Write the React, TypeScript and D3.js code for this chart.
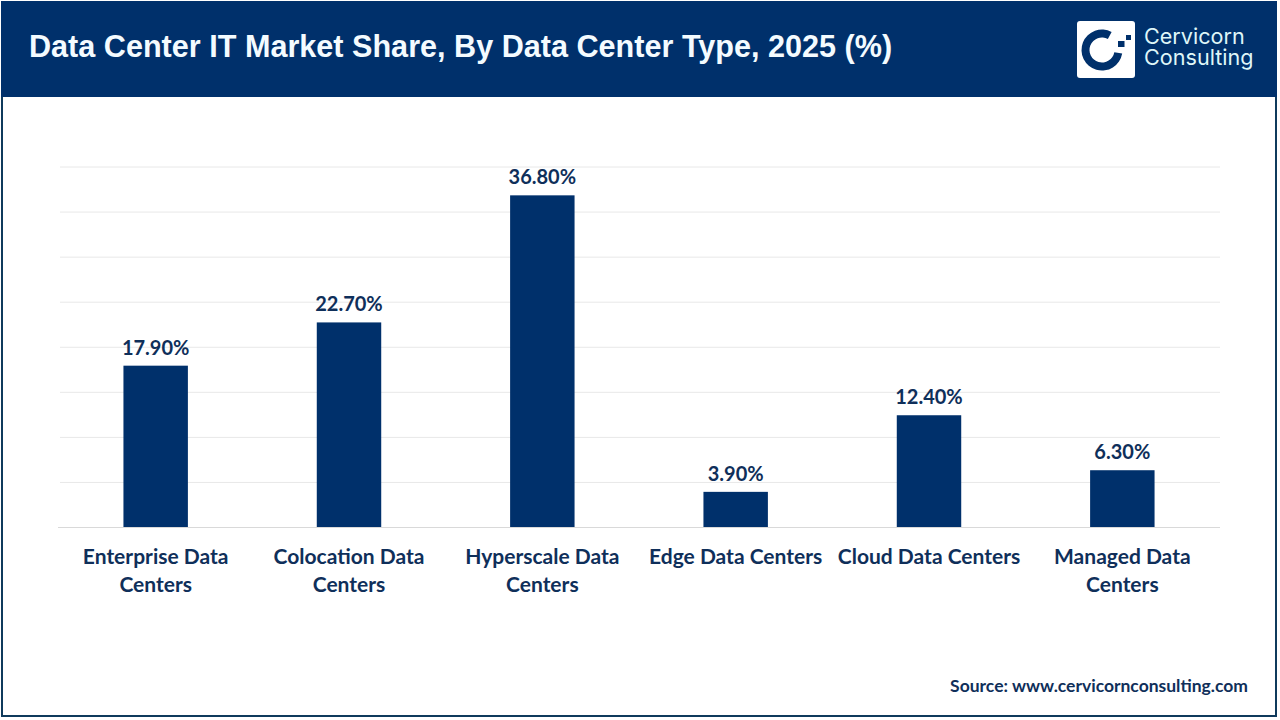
import React, { useEffect, useRef } from "react";
import * as d3 from "d3";

const categories = [
  "Enterprise Data Centers",
  "Colocation Data Centers",
  "Hyperscale Data Centers",
  "Edge Data Centers",
  "Cloud Data Centers",
  "Managed Data Centers",
];
const values = [17.9, 22.7, 36.8, 3.9, 12.4, 6.3];
const gridTicks = [5, 10, 15, 20, 25, 30, 35, 40];
const unwrapped = ["Edge Data Centers", "Cloud Data Centers"];

const title = "Data Center IT Market Share, By Data Center Type, 2025 (%)";
const source = "Source: www.cervicornconsulting.com";
const logoLines = ["Cervicorn", "Consulting"];

const navy = "#00306b";
const textNavy = "#0f2f5a";
const labelFont = "Lato, 'Noto Sans', sans-serif";

const App = () => {
  const svgRef = useRef<SVGSVGElement>(null);

  useEffect(() => {
    const width = 1280;
    const height = 720;
    const svg = d3.select(svgRef.current);
    svg.selectAll("*").remove();
    svg
      .attr("width", width)
      .attr("height", height)
      .attr("viewBox", [0, 0, width, height].join(" "))
      .style("position", "absolute")
      .style("left", 0)
      .style("top", 0)
      .style("background", "#fff");

    // frame and header band
    svg.append("rect")
      .attr("x", 2).attr("y", 2).attr("width", 1274).attr("height", 714)
      .attr("fill", "#fff").attr("stroke", "#0f3a5c").attr("stroke-width", 2);
    svg.append("rect")
      .attr("x", 1).attr("y", 1).attr("width", 1276).attr("height", 96)
      .attr("fill", navy);
    svg.append("text")
      .attr("x", 29).attr("y", 57)
      .attr("fill", "#f4fbff")
      .attr("font-family", "'Liberation Sans', Arial, sans-serif")
      .attr("font-weight", 700)
      .attr("font-size", 30.6)
      .text(title);

    // logo
    const logo = svg.append("g");
    logo.append("rect")
      .attr("x", 1077).attr("y", 21).attr("width", 58).attr("height", 57)
      .attr("rx", 3).attr("fill", "#fff");
    const ring = d3.arc()({
      innerRadius: 12.5,
      outerRadius: 20.5,
      startAngle: (100 * Math.PI) / 180,
      endAngle: (388 * Math.PI) / 180,
    });
    logo.append("path")
      .attr("d", ring)
      .attr("transform", "translate(1102,50)")
      .attr("fill", navy);
    logo.append("rect").attr("x", 1118).attr("y", 41).attr("width", 6.5).attr("height", 6).attr("fill", navy);
    logo.append("rect").attr("x", 1126).attr("y", 35).attr("width", 5).attr("height", 5).attr("fill", navy);
    // one text element, the two lines sit tighter than the font's line box
    logo.append("text")
      .attr("fill", "#dff6f8")
      .attr("font-family", "Inter, 'Open Sans', sans-serif")
      .attr("font-size", 21.6)
      .selectAll("tspan")
      .data(logoLines)
      .join("tspan")
      .attr("x", 1144)
      .attr("y", (d, i) => 44 + i * 21)
      .text((d) => d);

    // scales
    const x = d3.scaleBand().domain(categories).range([59, 1219]).paddingInner(2 / 3).paddingOuter(1 / 3);
    const y = d3.scaleLinear().domain([0, 40]).range([527, 166.5]);

    // gridlines
    const grid = svg.append("g")
      .attr("transform", "translate(60,0)")
      .call(d3.axisLeft(y).tickValues(gridTicks).tickSize(-1160).tickFormat(() => ""));
    grid.select(".domain").remove();
    grid.selectAll(".tick line").attr("stroke", "#e8e8e8").attr("stroke-width", 1);

    // bars
    svg.selectAll("rect.bar")
      .data(values)
      .join("rect")
      .attr("class", "bar")
      .attr("x", (d, i) => x(categories[i]))
      .attr("y", (d) => y(d))
      .attr("width", x.bandwidth())
      .attr("height", (d) => y(0) - y(d))
      .attr("fill", navy);

    // value labels
    svg.selectAll("text.value")
      .data(values)
      .join("text")
      .attr("class", "value")
      .attr("x", (d, i) => x(categories[i]) + x.bandwidth() / 2)
      .attr("y", (d) => y(d) - 11)
      .attr("text-anchor", "middle")
      .attr("fill", textNavy)
      .attr("font-family", labelFont)
      .attr("font-weight", 700)
      .attr("font-size", 20)
      .text((d) => d.toFixed(2) + "%");

    // category axis
    const axis = svg.append("g")
      .attr("transform", "translate(0,527)")
      .call(d3.axisBottom(x).tickSize(0).tickPadding(0));
    axis.select(".domain").attr("stroke", "#d9d9d9").attr("d", "M58,0.5H1220");
    axis.selectAll(".tick text").each(function (d) {
      const el = d3.select(this);
      const name = d as string;
      const words = name.split(" ");
      const lines = unwrapped.includes(name)
        ? [name]
        : [words.slice(0, 2).join(" "), words.slice(2).join(" ")];
      el.text(null)
        .attr("y", null)
        .attr("dy", null)
        .attr("fill", textNavy)
        .attr("font-family", labelFont)
        .attr("font-weight", 700)
        .attr("font-size", 21);
      lines.forEach((line, i) => {
        el.append("tspan").attr("x", 0).attr("y", 37 + i * 28).text(line);
      });
    });

    svg.append("text")
      .attr("x", 1248).attr("y", 692)
      .attr("text-anchor", "end")
      .attr("fill", textNavy)
      .attr("font-family", labelFont)
      .attr("font-weight", 700)
      .attr("font-size", 17.5)
      .text(source);
  }, []);

  return <svg ref={svgRef}></svg>;
};

export default App;
